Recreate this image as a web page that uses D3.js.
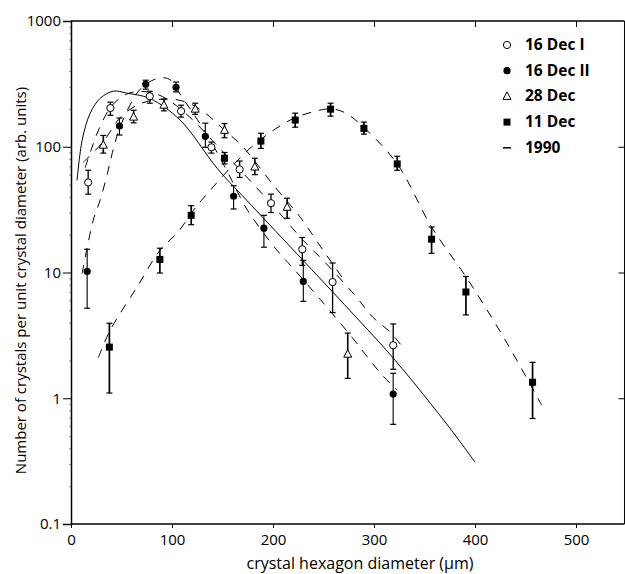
<!DOCTYPE html>
<html>
<head>
<meta charset="utf-8">
<script src="https://cdn.jsdelivr.net/npm/d3@7"></script>
<style>
body { margin: 0; background: #fff; }
text { font-family: "Open Sans", sans-serif; }
</style>
</head>
<body>
<div id="chart"></div>
<script>
// 16 Dec I (open circles)
const diamDecI = [17, 39, 78, 109, 139, 167, 198, 229, 259, 319];
const valDecI  = [52, 203, 252, 192, 99, 66, 35.6, 15.3, 8.4, 2.64];
const loDecI   = [42, 178, 222, 172, 89, 57, 30, 11.4, 4.8, 1.7];
const hiDecI   = [65, 226, 276, 214, 109, 77, 42, 19, 11.9, 3.9];

// 16 Dec II (filled circles)
const diamDecII = [16, 48, 74, 104, 133, 161, 191, 230, 319];
const valDecII  = [10.2, 146, 314, 297, 121, 40.4, 22.5, 8.5, 1.08];
const loDecII   = [5.2, 124, 287, 273, 99, 32, 15.9, 5.9, 0.62];
const hiDecII   = [15.3, 169, 338, 327, 154, 49, 28.5, 12.5, 1.58];

// 28 Dec (open triangles)
const diam28 = [32, 62, 92, 123, 152, 182, 214, 274];
const val28  = [103, 172, 214, 199, 135, 69, 33, 2.24];
const lo28   = [89, 155, 193, 181, 118, 60, 27, 1.44];
const hi28   = [123, 195, 239, 222, 153, 81, 39, 3.3];

// 11 Dec (filled squares)
const diam11 = [38, 88, 119, 152, 188, 222, 257, 290, 323, 357, 391, 457];
const val11  = [2.55, 12.7, 28.5, 81, 111, 163, 199, 140, 73, 18.4, 7.0, 1.34];
const lo11   = [1.1, 9.9, 24, 73, 97, 143, 175, 126, 65, 14.2, 4.6, 0.69];
const hi11   = [3.95, 15.6, 34, 90, 128, 185, 222, 157, 84, 23, 9.3, 1.93];

// fitted curves: [diameter, value]
const fit1990 = [[6, 54], [11, 112], [19, 185], [29, 243], [42, 277], [55, 267], [78, 242],
  [108, 163], [145, 67], [174, 37.5], [276, 5.0], [321, 2.0], [375, 0.58], [400, 0.31]];
const fitDecI = [[14, 68], [20, 95], [28, 140], [40, 210], [55, 262], [70, 275], [85, 262],
  [100, 225], [120, 165], [140, 112], [167, 66], [200, 34], [230, 18], [250, 12.4],
  [281, 6.6], [299, 4.4], [316, 3.35], [331, 2.4]];
const fitDecII = [[11, 9.8], [22, 26], [29, 38], [36, 61], [41, 90], [48, 140], [61, 234],
  [70, 295], [85, 348], [97, 345], [111, 240], [125, 165], [140, 105], [155, 63], [174, 32],
  [204, 15], [220, 10.8], [250, 5.7], [279, 3.0], [294, 2.1], [309, 1.5], [323, 1.16]];
const fit28 = [[12, 75], [32, 110], [50, 175], [70, 222], [95, 240], [115, 225], [133, 185],
  [150, 140], [170, 100], [200, 50], [227, 27.5], [245, 17], [269, 9]];
const fit11 = [[27, 2.1], [39, 3.5], [66, 7.8], [88, 15], [106, 21], [121, 31], [131, 39],
  [179, 100], [217, 163], [238, 188], [257, 200], [271, 187], [290, 142], [323, 73],
  [357, 23], [392, 9], [430, 2.9], [466, 0.88]];

const xTicks = [0, 100, 200, 300, 400, 500];
const yTicks = [0.1, 1, 10, 100, 1000];
const legendNames = ["16 Dec I", "16 Dec II", "28 Dec", "11 Dec", "1990"];

const W = 625, H = 574;
const plotLeft = 71, plotTop = 21, plotBottom = 524;

const svg = d3.select("#chart").append("svg")
    .attr("width", W)
    .attr("height", H);

const x = d3.scaleLinear().domain([0, 500]).range([plotLeft, 576]);
const y = d3.scaleLog().domain([0.1, 1000]).range([plotBottom, plotTop]);
const plotRight = x(548);

// frame
svg.append("line").attr("x1", plotLeft).attr("x2", plotRight).attr("y1", plotTop).attr("y2", plotTop)
    .attr("stroke", "#000").attr("stroke-width", 1.5);
svg.append("line").attr("x1", plotRight).attr("x2", plotRight).attr("y1", plotTop).attr("y2", plotBottom)
    .attr("stroke", "#000").attr("stroke-width", 1);

const minor = [];
for (let e = -1; e < 3; e++) {
    for (let m = 2; m < 10; m++) minor.push(m * Math.pow(10, e));
}

svg.append("g")
    .attr("transform", `translate(${plotLeft},0)`)
    .call(d3.axisLeft(y).tickValues(minor).tickSize(2).tickFormat(""))
    .call(g => g.select(".domain").remove())
    .call(g => g.selectAll("line").attr("stroke", "#999"));

svg.append("g")
    .attr("transform", `translate(${plotLeft},0)`)
    .call(d3.axisLeft(y).tickValues(yTicks).tickSize(8).tickPadding(2)
        .tickFormat(d => d >= 1 ? d3.format("d")(d) : "0.1"))
    .call(g => g.select(".domain").attr("stroke-width", 1.5))
    .call(g => g.selectAll("text").style("font-size", "15px").attr("fill", "#000"));

svg.append("g")
    .attr("transform", `translate(0,${plotBottom})`)
    .call(d3.axisBottom(x).tickValues(xTicks).tickSize(4).tickPadding(6).tickSizeOuter(0))
    .call(g => g.select(".domain").attr("d", `M${plotLeft},0H${plotRight}`).attr("stroke-width", 1.5))
    .call(g => g.selectAll("text").style("font-size", "15px").attr("fill", "#000"));

svg.append("g")
    .attr("transform", `translate(0,${plotTop})`)
    .call(d3.axisBottom(x).tickValues(xTicks.slice(1)).tickSize(6).tickFormat(""))
    .call(g => g.select(".domain").remove());

svg.append("g")
    .attr("transform", `translate(${plotRight},0)`)
    .call(d3.axisLeft(y).tickValues([1, 10, 100]).tickSize(6).tickFormat(""))
    .call(g => g.select(".domain").remove());

// axis titles
svg.append("text")
    .attr("x", 360)
    .attr("y", 569)
    .attr("text-anchor", "middle")
    .style("font-size", "16px")
    .text("crystal hexagon diameter (\u03bcm)");

svg.append("text")
    .attr("transform", `translate(26,${(plotTop + plotBottom) / 2 + 8}) rotate(-90)`)
    .attr("text-anchor", "middle")
    .style("font-size", "15px")
    .text("Number of crystals per unit crystal diameter (arb. units)");

// curves
const line = d3.line()
    .x(d => x(d[0]))
    .y(d => y(d[1]))
    .curve(d3.curveCatmullRom);

[fitDecI, fitDecII, fit28, fit11].forEach(c => {
    svg.append("path")
        .attr("d", line(c))
        .attr("fill", "none")
        .attr("stroke", "#000")
        .attr("stroke-width", 1)
        .attr("stroke-dasharray", "9,8");
});

svg.append("path")
    .attr("d", line(fit1990))
    .attr("fill", "none")
    .attr("stroke", "#000")
    .attr("stroke-width", 1);

// error bars + markers
function drawMarker(g, px, py, shape) {
    if (shape === "openCircle") {
        g.append("circle").attr("cx", px).attr("cy", py).attr("r", 3.6)
            .attr("fill", "#fff").attr("stroke", "#000").attr("stroke-width", 1);
    } else if (shape === "circle") {
        g.append("circle").attr("cx", px).attr("cy", py).attr("r", 3.6).attr("fill", "#000");
    } else if (shape === "triangle") {
        g.append("path")
            .attr("d", `M${px},${py - 4.5}L${px + 4},${py + 3}L${px - 4},${py + 3}Z`)
            .attr("fill", "#fff").attr("stroke", "#000").attr("stroke-width", 1);
    } else if (shape === "square") {
        g.append("rect").attr("x", px - 3.5).attr("y", py - 3.5)
            .attr("width", 7).attr("height", 7).attr("fill", "#000");
    } else if (shape === "dash") {
        g.append("line").attr("x1", px - 4).attr("x2", px + 4)
            .attr("y1", py).attr("y2", py).attr("stroke", "#000").attr("stroke-width", 1.5);
    }
}

function drawSeries(diam, val, lo, hi, shape, barWidth) {
    const g = svg.append("g");
    diam.forEach((d, i) => {
        const px = x(d);
        g.append("line").attr("x1", px).attr("x2", px)
            .attr("y1", y(lo[i])).attr("y2", y(hi[i]))
            .attr("stroke", "#000").attr("stroke-width", barWidth);
        [lo[i], hi[i]].forEach(v => {
            g.append("line").attr("x1", px - 3).attr("x2", px + 3)
                .attr("y1", y(v)).attr("y2", y(v))
                .attr("stroke", "#000").attr("stroke-width", 1.2);
        });
        drawMarker(g, px, y(val[i]), shape);
    });
}

drawSeries(diam11, val11, lo11, hi11, "square", 1.7);
drawSeries(diam28, val28, lo28, hi28, "triangle", 1.6);
drawSeries(diamDecII, valDecII, loDecII, hiDecII, "circle", 1.1);
drawSeries(diamDecI, valDecI, loDecI, hiDecI, "openCircle", 1.3);

// legend
const shapes = ["openCircle", "circle", "triangle", "square", "dash"];
const leg = svg.append("g");
legendNames.forEach((name, i) => {
    const ly = 45 + i * 25.7;
    drawMarker(leg, 507, ly, shapes[i]);
    leg.append("text")
        .attr("x", 525)
        .attr("y", ly + 5)
        .style("font-size", "15.5px")
        .style("font-weight", "bold")
        .text(name);
});
</script>
</body>
</html>
